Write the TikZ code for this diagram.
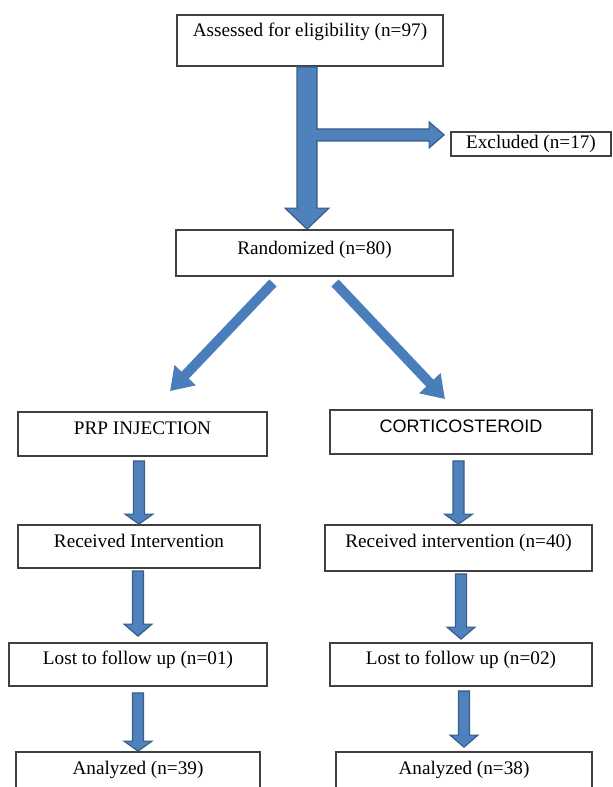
\documentclass[tikz,border=0pt]{standalone}
\usepackage{fontspec}
\setmainfont{Liberation Serif}
\newfontfamily\capsans{Liberation Sans}
\usetikzlibrary{arrows.meta, calc}

\definecolor{arrowfill}{HTML}{4F81BD}
\definecolor{arrowedge}{HTML}{385D8A}
\definecolor{splitblue}{HTML}{4A7EBB}
\definecolor{boxedge}{HTML}{404040}

\tikzstyle{flowbox} = [draw=boxedge, line width=0.9pt, fill=white, inner sep=0, text height=7pt, text depth=2.4pt, font=\fontsize{9.6}{11}\selectfont]
\tikzstyle{blockarrow} = [fill=arrowfill, draw=arrowedge, line width=0.6pt, line join=miter]
\tikzstyle{splitarrow} = [splitblue, line width=5pt, -{Triangle[width=14pt, length=11pt]}]

% from, to, shaft half width, head half width, head length, gap at start
\newcommand{\blockdown}[6]{%
  \filldraw[blockarrow] let \p1=(#1), \p2=(#2) in
    (\x1-#3,\y1-#6) -- (\x1+#3,\y1-#6) -- (\x1+#3,\y2+#5) -- (\x1+#4,\y2+#5)
    -- (\x1,\y2) -- (\x1-#4,\y2+#5) -- (\x1-#3,\y2+#5) -- cycle;
}

\begin{document}
\begin{tikzpicture}[x=0.5pt, y=-0.5pt]
      \useasboundingbox (0, 0) rectangle (613, 787);
      \clip (0, 0) rectangle (613, 787);

      \node[flowbox, minimum width=133pt, minimum height=25.5pt, text depth=10.9pt] (assess) at (310, 40.5) {Assessed for eligibility (n=97)};
      \node[flowbox, minimum width=80pt, minimum height=12pt] (excluded) at (531, 144) {Excluded (n=17)};
      \node[flowbox, minimum width=138.5pt, minimum height=23pt, text depth=5.4pt] (random) at (314.5, 253) {Randomized (n=80)};

      \node[flowbox, minimum width=124.5pt, minimum height=22pt, text depth=6.6pt] (prp) at (142.5, 434) {PRP INJECTION};
      \node[flowbox, minimum width=131pt, minimum height=22pt, text depth=6.6pt, font=\capsans\fontsize{9}{11}\selectfont] (cortico) at (461, 432) {CORTICOSTEROID};

      \node[flowbox, minimum width=121pt, minimum height=21.5pt, text depth=5.9pt] (recvprp) at (139, 546.5) {Received Intervention};
      \node[flowbox, minimum width=133.5pt, minimum height=23pt, text depth=7.6pt] (recvcort) at (458.5, 548) {Received intervention (n=40)};

      \node[flowbox, minimum width=129pt, minimum height=21.5pt, text depth=6.9pt] (lostprp) at (138, 664.5) {Lost to follow up (n=01)};
      \node[flowbox, minimum width=131pt, minimum height=21.5pt, text depth=6.9pt] (lostcort) at (461, 664.5) {Lost to follow up (n=02)};

      \node[flowbox, minimum width=122pt, minimum height=22pt, text depth=6.4pt] (analprp) at (138, 774) {Analyzed (n=39)};
      \node[flowbox, minimum width=128pt, minimum height=22pt, text depth=6.4pt] (analcort) at (464, 774) {Analyzed (n=38)};

      \blockdown{[xshift=-1.5pt]assess.south}{[xshift=-1.5pt]random.north}{5pt}{11pt}{10.5pt}{0pt}
      \coordinate (fork) at ([shift={(7, 68)}]assess.south);
      \filldraw[blockarrow] let \p1=(fork), \p2=(excluded.west) in
        (\x1-0.4pt,\y1+3pt) -- (\x2-10.5pt,\y1+3pt) -- (\x2-10.5pt,\y1+6.5pt) -- (\x2-3pt,\y1)
        -- (\x2-10.5pt,\y1-6.5pt) -- (\x2-10.5pt,\y1-3pt) -- (\x1-0.4pt,\y1-3pt);

      \draw[splitarrow] ([shift={(-41.5, 6)}]random.south) -- ([shift={(27.5, -20)}]prp.north);
      \draw[splitarrow] ([shift={(20.5, 6)}]random.south) -- ([shift={(-16, -10)}]cortico.north);

      \blockdown{recvprp.north |- prp.south}{recvprp.north}{2.75pt}{7pt}{5pt}{2pt}
      \blockdown{lostprp.north |- recvprp.south}{[yshift=3pt]lostprp.north}{2.75pt}{7pt}{6pt}{1pt}
      \blockdown{analprp.north |- lostprp.south}{analprp.north}{2.75pt}{7pt}{5pt}{3pt}

      \blockdown{recvcort.north |- cortico.south}{recvcort.north}{2.75pt}{7pt}{5pt}{3pt}
      \blockdown{lostcort.north |- recvcort.south}{[yshift=1.5pt]lostcort.north}{2.75pt}{7pt}{6pt}{1pt}
      \blockdown{analcort.north |- lostcort.south}{[yshift=2pt]analcort.north}{2.75pt}{7pt}{6pt}{2pt}
\end{tikzpicture}
\end{document}
